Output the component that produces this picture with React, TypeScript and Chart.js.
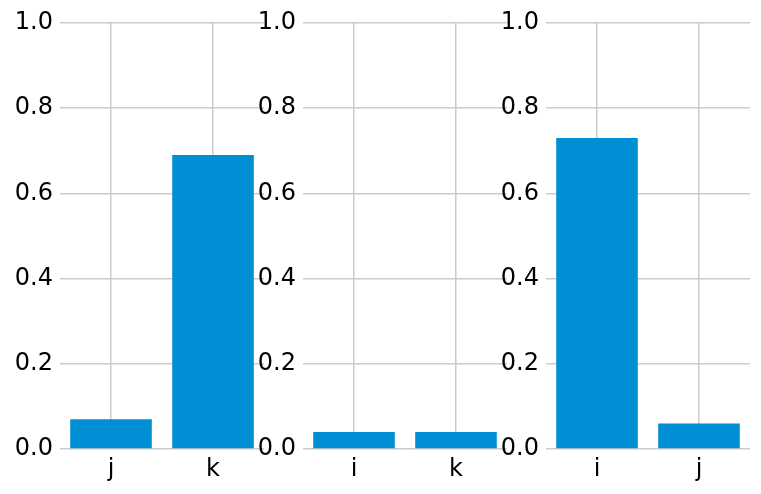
import React, { useEffect, useRef } from "react";
import { Chart, registerables } from "chart.js";

Chart.register(...registerables);

const panel1Labels = ["j", "k"];
const panel1Values = [0.07, 0.69];
const panel2Labels = ["i", "k"];
const panel2Values = [0.04, 0.04];
const panel3Labels = ["i", "j"];
const panel3Values = [0.73, 0.06];
const yMin = 0;
const yMax = 1;
const yStep = 0.2;

const BAR_COLOR = "#008fd5";
const GRID_COLOR = "#cbcbcb";
const FONT = "'DejaVu Sans', sans-serif";

const CANVAS_W = 264;
const CANVAS_H = 494;
const PANEL_STEP = 243;

function Panel({ labels, values, left }: { labels: string[]; values: number[]; left: number }) {
  const ref = useRef<HTMLCanvasElement | null>(null);
  useEffect(() => {
    if (!ref.current) return;
    const chart = new Chart(ref.current, {
      type: "bar",
      data: {
        labels,
        datasets: [
          {
            data: values,
            backgroundColor: BAR_COLOR,
            borderWidth: 0,
            categoryPercentage: 0.8,
            barPercentage: 1.0,
          },
        ],
      },
      options: {
        responsive: false,
        animation: false,
        devicePixelRatio: 1,
        layout: { padding: { top: 23, bottom: 0, left: 0, right: 0 } },
        plugins: { legend: { display: false }, tooltip: { enabled: false } },
        scales: {
          x: {
            grid: { color: GRID_COLOR, lineWidth: 1.5, offset: false, drawTicks: false },
            border: { display: false },
            ticks: { color: "#000", font: { family: FONT, size: 24 }, padding: 6 },
            afterFit: (s: any) => {
              s.height = 45;
            },
          },
          y: {
            min: yMin,
            max: yMax,
            grid: { color: GRID_COLOR, lineWidth: 1.5, drawTicks: false },
            border: { display: false },
            ticks: {
              stepSize: yStep,
              color: "#000",
              font: { family: FONT, size: 24 },
              padding: 7,
              callback: (v: any) => Number(v).toFixed(1),
            },
            afterFit: (s: any) => {
              s.width = 60;
            },
          },
        },
      },
    });
    return () => chart.destroy();
  }, []);
  return (
    <canvas
      ref={ref}
      width={CANVAS_W}
      height={CANVAS_H}
      style={{ position: "absolute", left, top: 0, width: CANVAS_W, height: CANVAS_H }}
    />
  );
}

export default function App() {
  return (
    <div style={{ position: "fixed", left: 0, top: 0, width: 761, height: 494, background: "#fff" }}>
      <Panel labels={panel1Labels} values={panel1Values} left={0} />
      <Panel labels={panel2Labels} values={panel2Values} left={PANEL_STEP} />
      <Panel labels={panel3Labels} values={panel3Values} left={PANEL_STEP * 2} />
    </div>
  );
}
